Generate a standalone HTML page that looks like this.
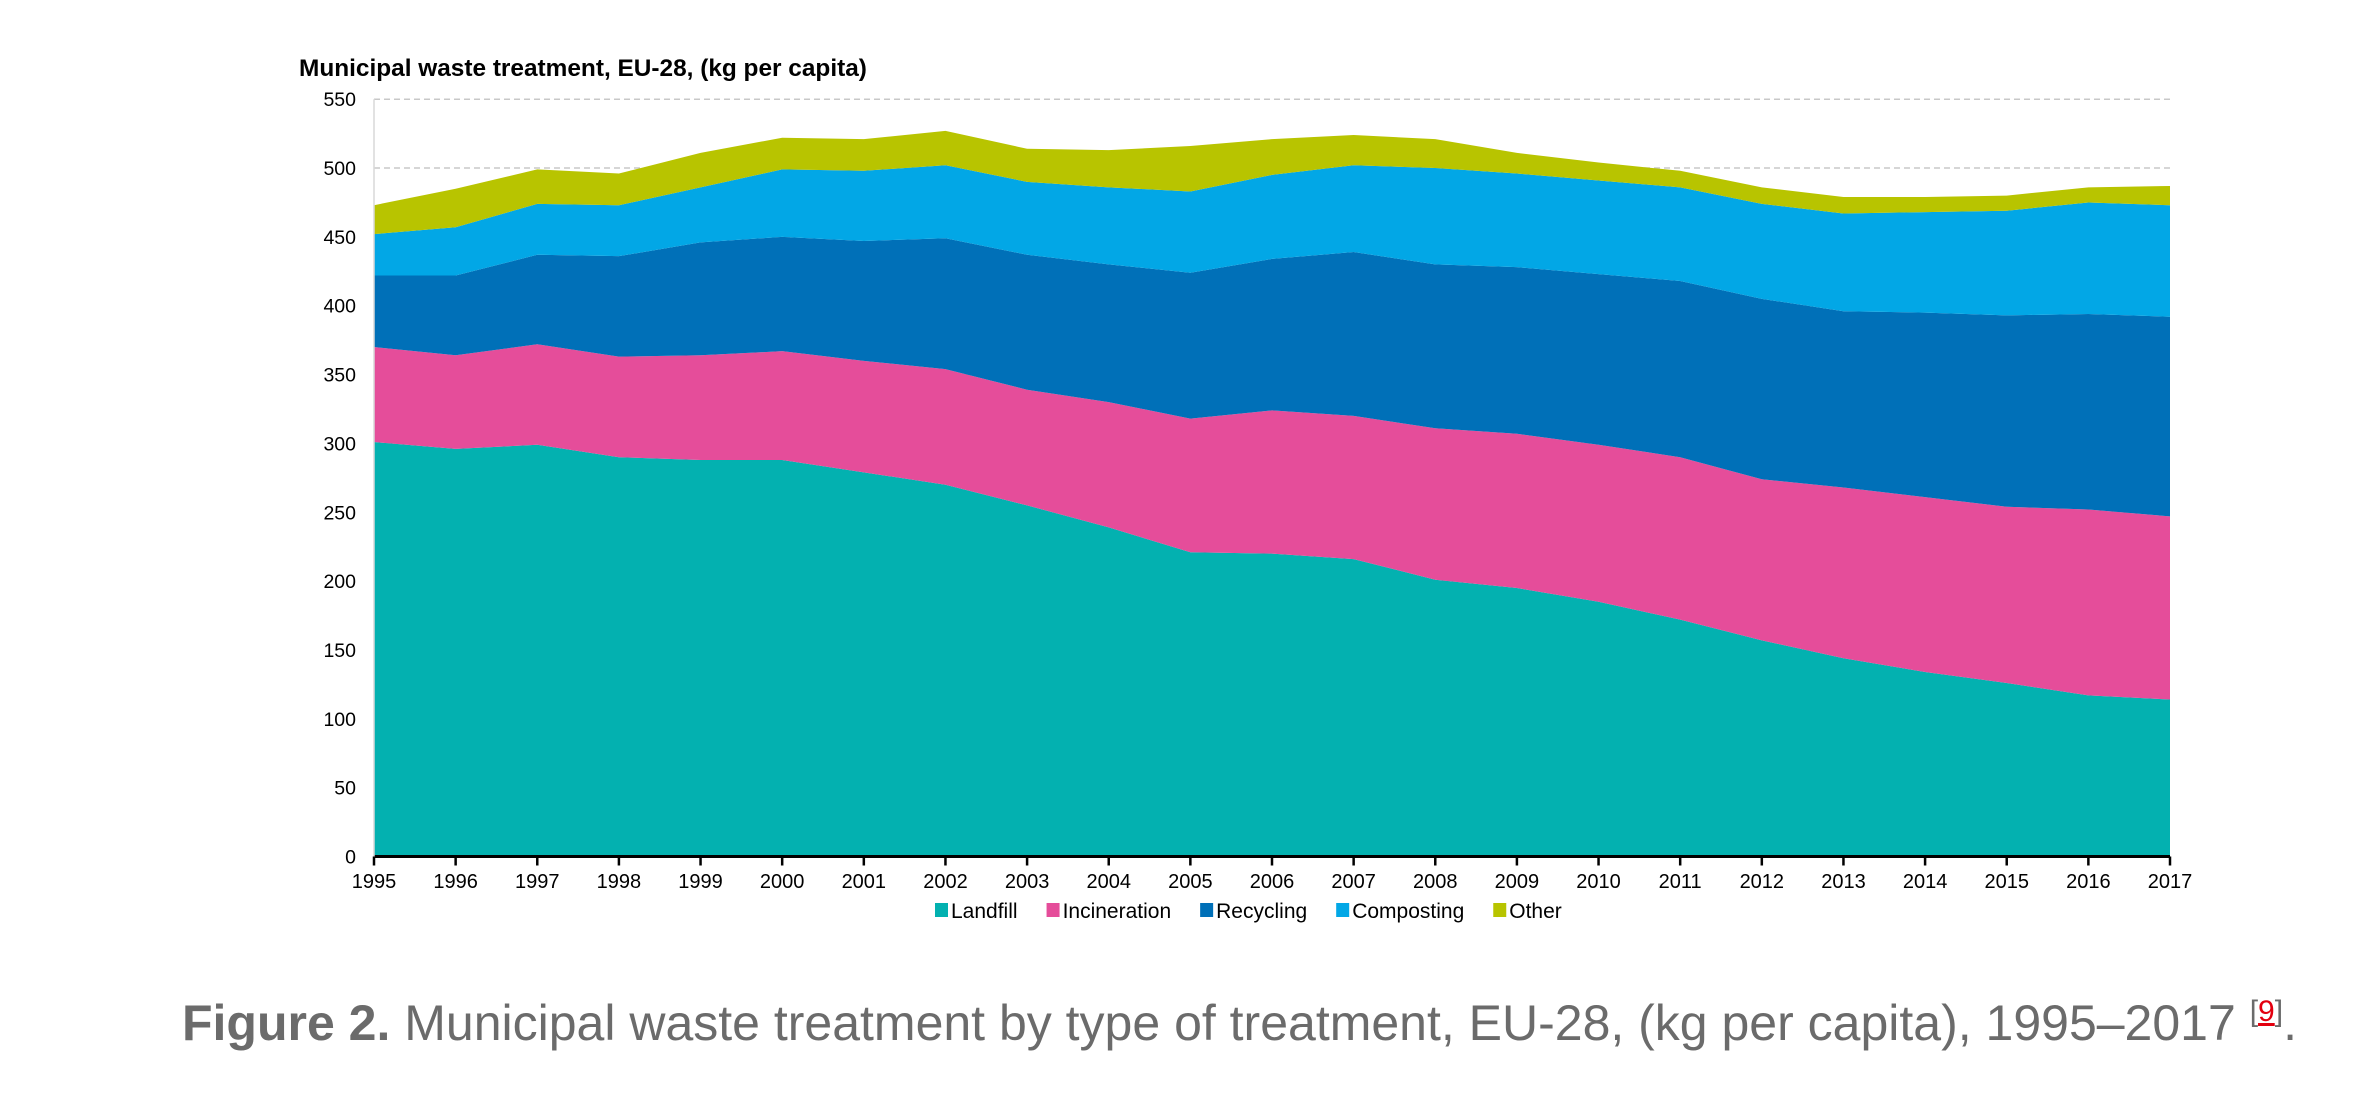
<!DOCTYPE html>
<html><head><meta charset="utf-8"><style>
html,body{margin:0;padding:0;background:#fff;width:2356px;height:1096px;overflow:hidden}
svg{display:block}
text{font-family:"Liberation Sans",Arial,sans-serif}
</style></head><body>
<svg id="chart" width="2356" height="1096" viewBox="0 0 2356 1096" xmlns="http://www.w3.org/2000/svg">
<text x="299" y="76" font-size="24.4" font-weight="bold" fill="#000">Municipal waste treatment, EU-28, (kg per capita)</text>
<g id="grid"></g><g id="areas"></g><g id="axes"></g><g id="legend"></g>
<text x="182" y="1040" font-size="50" fill="#6b6b6b"><tspan font-weight="bold">Figure 2.</tspan> Municipal waste treatment by type of treatment, EU-28, (kg per capita), 1995–2017 <tspan font-size="30" dy="-19">[</tspan><tspan font-size="30" fill="#e3000f" text-decoration="underline">9</tspan><tspan font-size="30">]</tspan><tspan dy="19">.</tspan></text>
</svg>
<script>
const years=[1995,1996,1997,1998,1999,2000,2001,2002,2003,2004,2005,2006,2007,2008,2009,2010,2011,2012,2013,2014,2015,2016,2017];
const landfill=[301,296,299,290,288,288,279,270,255,239,221,220,216,201,195,185,172,157,144,134,126,117,114];
const incineration=[69,68,73,73,76,79,81,84,84,91,97,104,104,110,112,114,118,117,124,127,128,135,133];
const recycling=[52,58,65,73,82,83,87,95,98,100,106,110,119,119,121,124,128,131,128,134,139,142,145];
const composting=[30,35,37,37,40,49,51,53,53,56,59,61,63,70,68,68,68,69,71,73,76,81,81];
const other=[21,28,25,23,25,23,23,25,24,27,33,26,22,21,15,13,12,12,12,11,11,11,14];
const yTicks=[0,50,100,150,200,250,300,350,400,450,500,550];
const seriesNames=["Landfill","Incineration","Recycling","Composting","Other"];
const seriesColors=["#03b1b0","#e54d9a","#0070b8","#02a7e6","#b8c400"];

const NS="http://www.w3.org/2000/svg";
const X0=374,X1=2170,Y0=856.5,YTOP=99.2,YMAX=550;
function xs(i){return X0+(X1-X0)*i/(years.length-1);}
function ys(v){return Y0-(Y0-YTOP)*v/YMAX;}
function mk(tag,attrs,parent){const e=document.createElementNS(NS,tag);for(const k in attrs)e.setAttribute(k,attrs[k]);parent.appendChild(e);return e;}
const grid=document.getElementById('grid'),areas=document.getElementById('areas'),axes=document.getElementById('axes'),legend=document.getElementById('legend');

yTicks.forEach(t=>{
  if(t>0){const l=mk('line',{x1:X0,x2:X1,y1:ys(t),y2:ys(t),stroke:'#c8c8c8','stroke-width':1.5,'stroke-dasharray':'6,4'},grid);
  
  }
  const tx=mk('text',{x:356,y:ys(t)+7,'text-anchor':'end','font-size':19.5,fill:'#000'},axes);
  tx.textContent=t;
  
  
});

const data=[landfill,incineration,recycling,composting,other];
let base=years.map(()=>0);
data.forEach((s,si)=>{
  const top=base.map((b,i)=>b+s[i]);
  let d='M'+xs(0)+','+ys(top[0]);
  for(let i=1;i<years.length;i++)d+='L'+xs(i)+','+ys(top[i]);
  for(let i=years.length-1;i>=0;i--)d+='L'+xs(i)+','+ys(base[i]);
  d+='Z';
  const p=mk('path',{d:d,fill:seriesColors[si]},areas);
  
  
  base=top;
});

const ax=mk('line',{x1:X0,x2:X1,y1:Y0,y2:Y0,stroke:'#000','stroke-width':3},axes);


const yax=mk('line',{x1:X0,x2:X0,y1:Y0,y2:YTOP,stroke:'#d9d9d9','stroke-width':1.5},axes);


years.forEach((yr,i)=>{
  const tk=mk('line',{x1:xs(i),x2:xs(i),y1:Y0,y2:Y0+9,stroke:'#000','stroke-width':2.5},axes);
  
  
  const tx=mk('text',{x:xs(i),y:888,'text-anchor':'middle','font-size':20,fill:'#000'},axes);
  tx.textContent=yr;
  
  
});

let lx=935;
seriesNames.forEach((n,i)=>{
  const g=mk('g',{},legend);
  
  
  mk('rect',{x:lx,y:903,width:13,height:14,fill:seriesColors[i]},g);
  const t=mk('text',{x:lx+16,y:918,'font-size':21,fill:'#000'},g);
  t.textContent=n;
  lx+=16+t.getComputedTextLength()+29;
});
</script>
</body></html>
